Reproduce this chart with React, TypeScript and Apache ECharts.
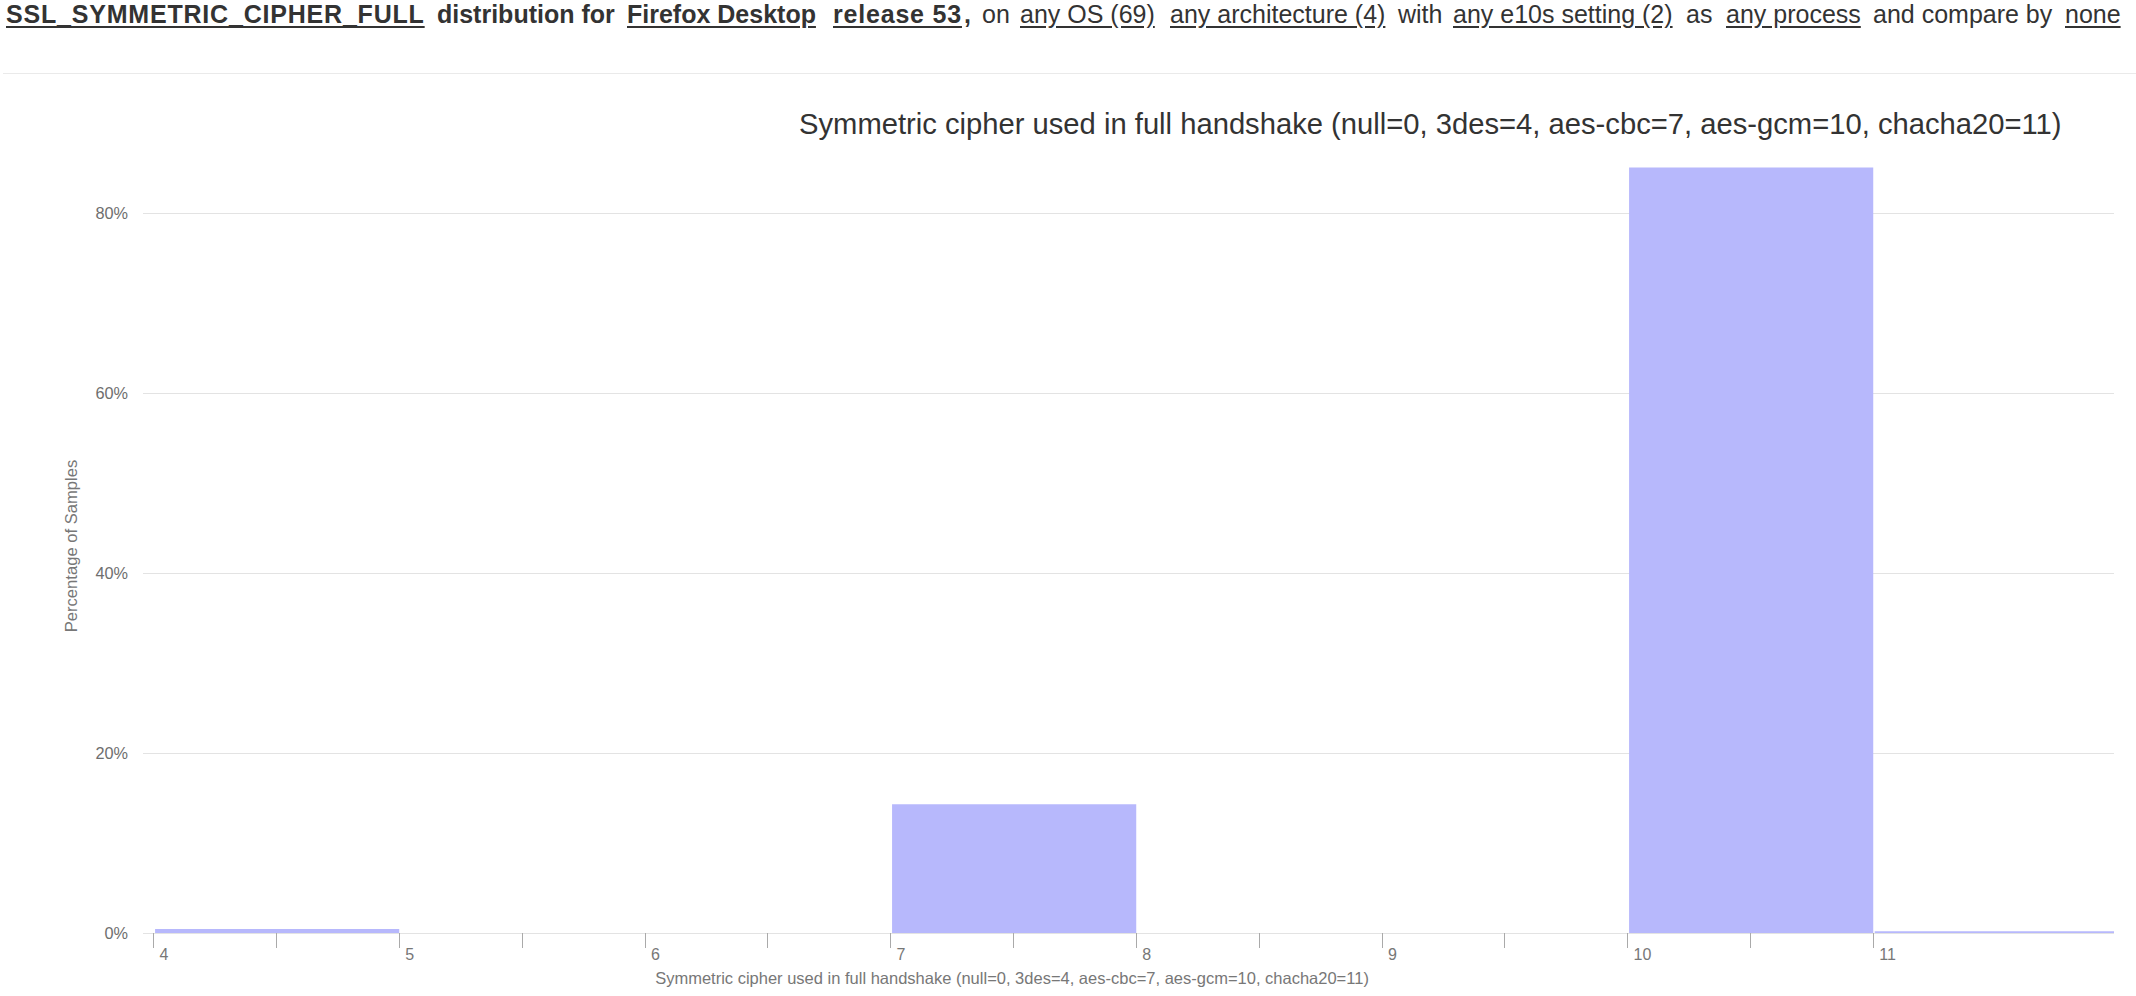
import * as echarts from "echarts";
import { useEffect, useRef } from "react";

// histogram bins: [start, end) on the cipher id axis, value in % of samples
const binStarts = [4, 5, 6, 7, 8, 9, 10, 11];
const binValues = [0.45, 0, 0, 14.3, 0, 0, 85.05, 0.2];

const xTickValues = [4, 4.5, 5, 5.5, 6, 6.5, 7, 7.5, 8, 8.5, 9, 9.5, 10, 10.5, 11];
const xLabelValues = [4, 5, 6, 7, 8, 9, 10, 11];
const yTickValues = [0, 20, 40, 60, 80];

const chartTitle =
  "Symmetric cipher used in full handshake (null=0, 3des=4, aes-cbc=7, aes-gcm=10, chacha20=11)";

// header line above the chart (x = left edge of each word group)
const headerParts = [
  { text: "SSL_SYMMETRIC_CIPHER_FULL", bold: true, link: true, x: 6, ls: 0.8 },
  { text: "distribution for", bold: true, link: false, x: 437, ls: 0 },
  { text: "Firefox Desktop", bold: true, link: true, x: 627, ls: 0 },
  { text: "release 53", bold: true, link: true, x: 833, ls: 0.8 },
  { text: ",", bold: true, link: false, x: 964, ls: 0 },
  { text: "on", bold: false, link: false, x: 982, ls: 0 },
  { text: "any OS (69)", bold: false, link: true, x: 1020, ls: 0 },
  { text: "any architecture (4)", bold: false, link: true, x: 1170, ls: 0 },
  { text: "with", bold: false, link: false, x: 1398, ls: 0 },
  { text: "any e10s setting (2)", bold: false, link: true, x: 1453, ls: 0 },
  { text: "as", bold: false, link: false, x: 1686, ls: 0 },
  { text: "any process", bold: false, link: true, x: 1726, ls: 0 },
  { text: "and compare by", bold: false, link: false, x: 1873, ls: 0 },
  { text: "none", bold: false, link: true, x: 2065, ls: 0 },
];

const FONT = '"Liberation Sans", Arial, Helvetica, sans-serif';

const App = () => {
  const chartRef = useRef<HTMLDivElement | null>(null);

  useEffect(() => {
    const chart = echarts.init(chartRef.current!, null, { renderer: "svg" });

    const data = binStarts.map((s, i) => [s, s + 1, binValues[i]]);

    const option = {
      animation: false,
      textStyle: { fontFamily: FONT },
      title: {
        text: chartTitle,
        left: 799,
        top: 109,
        padding: 0,
        textStyle: { fontSize: 29.2, fontWeight: "normal", color: "#333", fontFamily: FONT },
      },
      grid: { left: 143, right: 22, top: 159, bottom: 63 },
      xAxis: {
        type: "value",
        min: 3.957,
        max: 11.98,
        offset: 12.5,
        name: chartTitle,
        nameLocation: "middle",
        nameGap: 24,
        nameTextStyle: { fontSize: 16.5, color: "#777", padding: [0, 233, 0, 0] },
        axisLine: { show: false },
        splitLine: { show: false },
        axisTick: {
          show: true,
          length: 15,
          customValues: xTickValues,
          lineStyle: { color: "#aaa", width: 1 },
        },
        axisLabel: {
          customValues: xLabelValues,
          formatter: (v: number) => String(v),
          align: "left",
          padding: [0, 0, 0, 6],
          margin: 1,
          fontSize: 16,
          color: "#777",
        },
      },
      yAxis: {
        type: "value",
        min: 0,
        max: 86,
        name: "Percentage of Samples",
        nameLocation: "middle",
        nameGap: 63,
        nameRotate: 90,
        nameTextStyle: { fontSize: 16.6, color: "#777" },
        axisLine: { show: false },
        axisTick: { show: false, customValues: yTickValues },
        axisLabel: {
          customValues: yTickValues,
          formatter: (v: number) => v + "%",
          margin: 15,
          fontSize: 16.3,
          color: "#6e6e6e",
        },
        splitLine: { show: true, lineStyle: { color: "#e3e3e3", width: 1 } },
      },
      series: [
        {
          type: "custom",
          data: data,
          encode: { x: [0, 1], y: 2 },
          renderItem: (params: any, api: any) => {
            const topLeft = api.coord([api.value(0), api.value(2)]);
            const bottomRight = api.coord([api.value(1), 0]);
            const cs = params.coordSys;
            const x0 = topLeft[0] + 1.5;
            const x1 = Math.min(bottomRight[0], cs.x + cs.width);
            return {
              type: "rect",
              shape: {
                x: x0,
                y: topLeft[1],
                width: x1 - x0,
                height: bottomRight[1] - topLeft[1],
              },
              style: { fill: "#b7b8fc" },
            };
          },
        },
      ],
    };

    chart.setOption(option);
    return () => {
      chart.dispose();
    };
  }, []);

  return (
    <div
      style={{
        position: "absolute",
        left: 0,
        top: 0,
        width: 2136,
        height: 996,
        overflow: "hidden",
        background: "#fff",
      }}
    >
      <div
        ref={chartRef}
        style={{ position: "absolute", left: 0, top: 0, width: 2136, height: 996 }}
      />
      {headerParts.map((p, i) => (
        <span
          key={i}
          style={{
            position: "absolute",
            left: p.x,
            top: -1,
            whiteSpace: "nowrap",
            fontFamily: FONT,
            fontSize: 25,
            lineHeight: "30px",
            color: "#333",
            fontWeight: p.bold ? "bold" : "normal",
            letterSpacing: p.ls,
            textDecoration: p.link ? "underline" : "none",
            textUnderlineOffset: "3px",
          }}
        >
          {p.text}
        </span>
      ))}
      <div
        style={{
          position: "absolute",
          left: 3,
          right: 0,
          top: 73,
          height: 1,
          background: "#eaeaea",
        }}
      />
    </div>
  );
};

export default App;
